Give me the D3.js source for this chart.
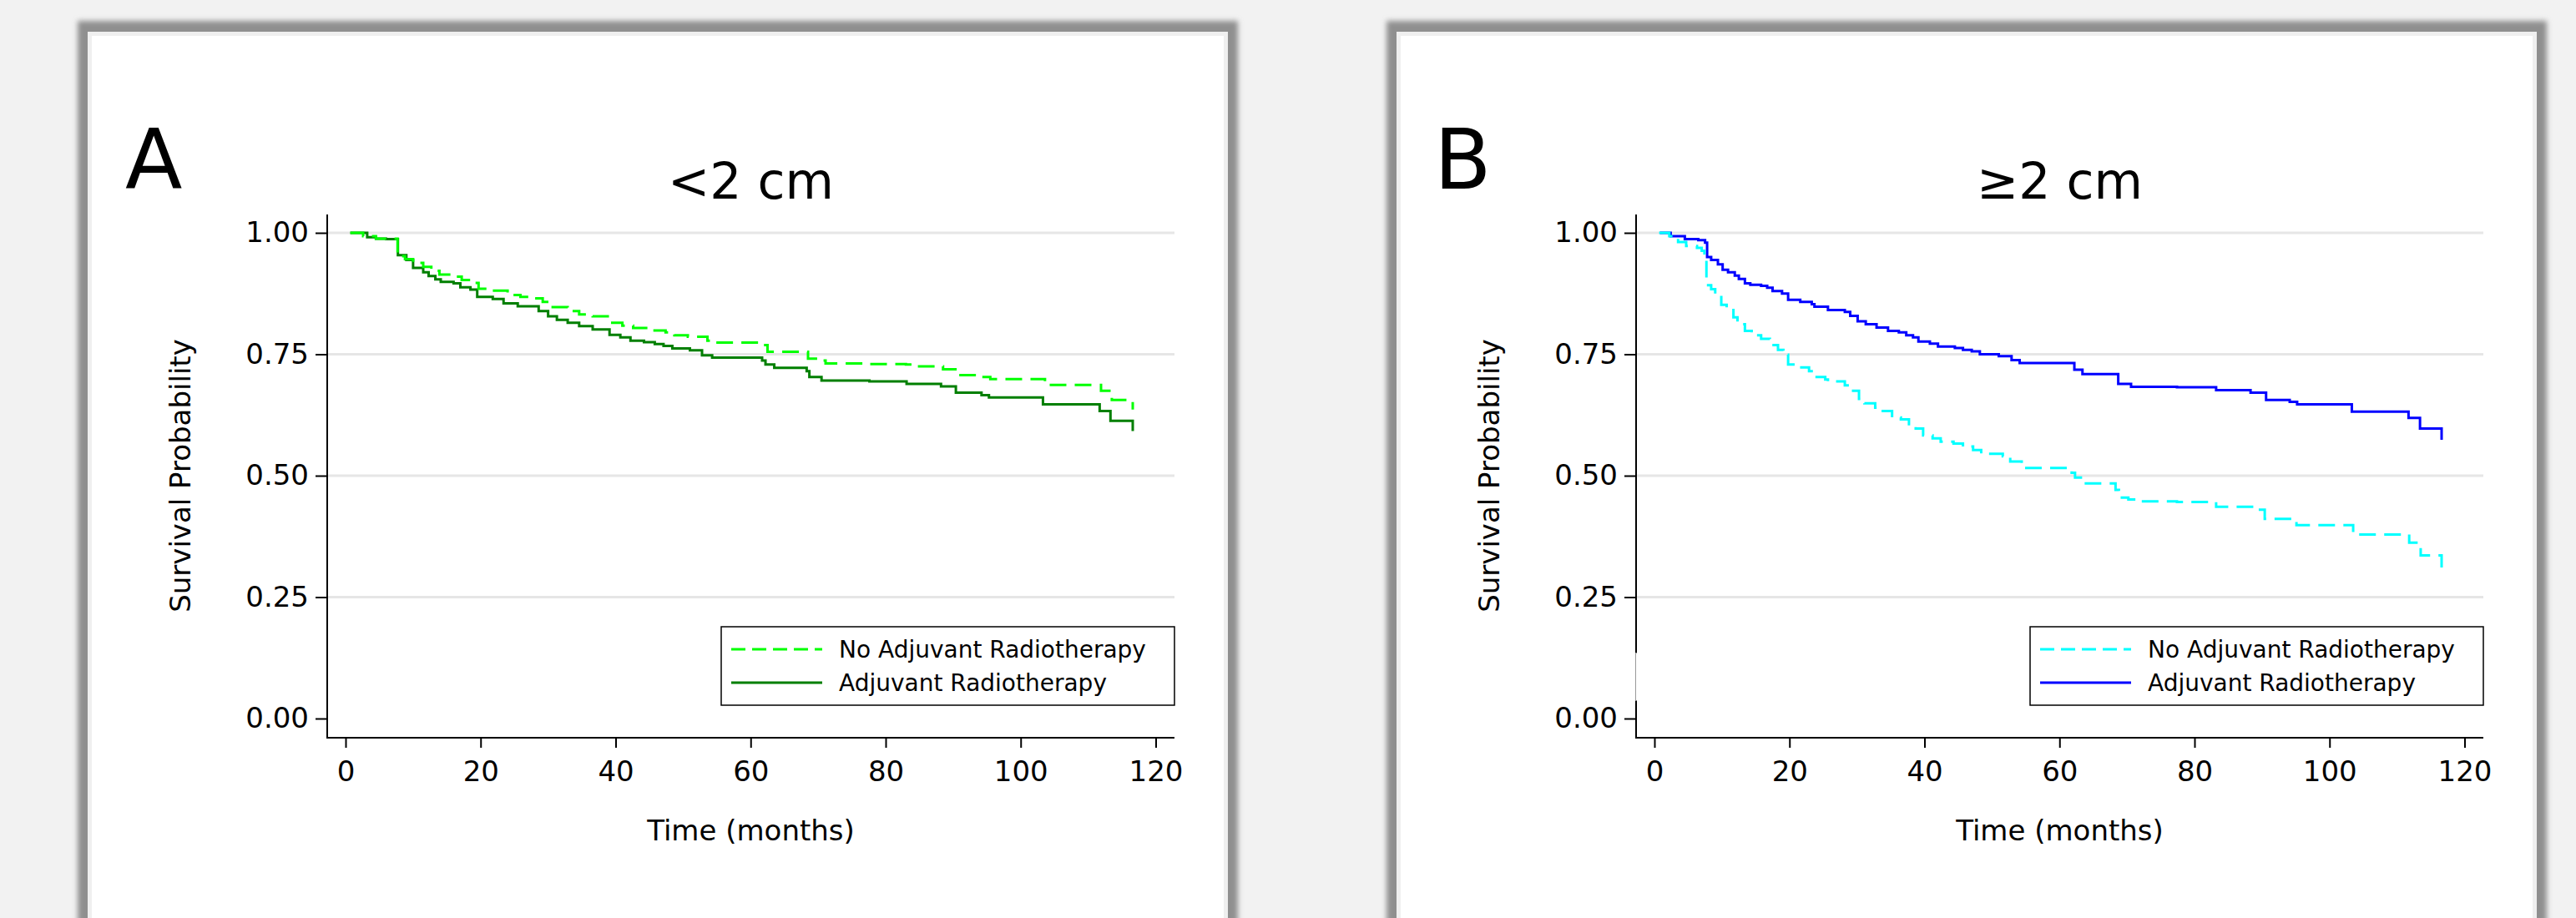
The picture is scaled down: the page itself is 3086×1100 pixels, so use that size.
<!DOCTYPE html>
<html>
<head>
<meta charset="utf-8">
<script src="https://cdn.jsdelivr.net/npm/d3@7"></script>
<style>
  body { margin: 0; background: #f2f2f2; }
  svg { display: block; }
  text { font-family: "DejaVu Sans", sans-serif; }
</style>
</head>
<body>
<svg id="main_canvas" width="3086" height="1100"></svg>
<script>
    const CANVAS_WIDTH = 3086;
    const CANVAS_HEIGHT = 1100;
    const PANEL_SHIFT = 1568;

    const timeTicks = [0, 20, 40, 60, 80, 100, 120];
    const probTicks = [0, 0.25, 0.5, 0.75, 1];
    const gridTicks = [0.25, 0.5, 0.75, 1];
    const panelLetters = ["A", "B"];
    const panelTitles = ["<2 cm", "\u22652 cm"];
    const groupNames = ["No Adjuvant Radiotherapy", "Adjuvant Radiotherapy"];

    // Kaplan-Meier steps [month, survival]
    const smallNoRT = [[0.7,1.000],[2.6,0.993],[4.5,0.988],[7.7,0.952],[8.8,0.946],[10.0,0.938],[11.5,0.930],
        [12.7,0.922],[13.9,0.914],[15.8,0.910],[17.2,0.903],[18.7,0.897],[19.7,0.885],[21.4,0.881],[24.0,0.872],
        [25.9,0.868],[27.8,0.865],[29.2,0.858],[30.2,0.847],[32.9,0.839],[34.6,0.832],[36.6,0.828],[39.1,0.815],
        [41.0,0.809],[42.6,0.804],[45.5,0.799],[47.4,0.795],[48.7,0.789],[50.7,0.786],[53.6,0.778],[54.4,0.774],
        [61.7,0.769],[62.5,0.755],[68.5,0.741],[70.0,0.737],[71.1,0.731],[77.3,0.730],[83.0,0.729],[84.3,0.725],
        [88.5,0.719],[90.6,0.707],[94.2,0.703],[95.5,0.699],[103.6,0.687],[111.9,0.675],[113.5,0.656],[116.6,0.636]];

    const smallRT = [[0.7,1.000],[3.2,0.991],[4.5,0.988],[6.0,0.987],[7.75,0.954],[9.0,0.944],[10.0,0.928],
        [11.5,0.919],[12.3,0.911],[13.3,0.904],[14.1,0.899],[16.0,0.896],[17.0,0.888],[18.5,0.883],[19.5,0.868],
        [21.8,0.864],[23.4,0.855],[25.5,0.849],[28.6,0.839],[30.0,0.828],[31.3,0.821],[32.9,0.815],[34.6,0.808],
        [36.6,0.801],[39.1,0.790],[40.7,0.785],[42.2,0.778],[44.2,0.775],[45.8,0.771],[47.1,0.767],[48.4,0.762],
        [51.0,0.758],[52.8,0.748],[54.3,0.743],[61.7,0.737],[62.2,0.729],[63.5,0.722],[68.3,0.715],[68.7,0.703],
        [70.5,0.696],[77.6,0.694],[83.1,0.689],[88.2,0.684],[90.4,0.671],[94.2,0.666],[95.3,0.661],[103.3,0.647],
        [111.7,0.633],[113.3,0.613],[116.6,0.592]];

    const largeNoRT = [[0.7,1.000],[2.2,0.993],[3.5,0.981],[4.7,0.973],[6.3,0.969],[7.0,0.963],[7.4,0.958],
        [7.7,0.892],[8.4,0.884],[9.0,0.872],[9.9,0.852],[10.7,0.844],[11.7,0.826],[12.3,0.812],[13.4,0.798],
        [14.4,0.789],[15.8,0.782],[17.1,0.769],[18.3,0.759],[19.1,0.749],[19.8,0.729],[21.4,0.723],[22.9,0.715],
        [23.7,0.703],[25.3,0.698],[25.7,0.694],[28.2,0.686],[29.0,0.675],[30.3,0.658],[31.1,0.649],[32.7,0.640],
        [33.6,0.633],[35.2,0.620],[36.5,0.616],[37.7,0.606],[38.7,0.597],[39.8,0.583],[41.2,0.577],[42.4,0.570],
        [44.3,0.566],[45.7,0.560],[47.2,0.553],[48.4,0.545],[51.6,0.540],[52.7,0.529],[54.4,0.516],[61.8,0.506],
        [62.3,0.496],[63.4,0.484],[68.3,0.471],[68.8,0.455],[70.2,0.451],[71.6,0.447],[77.4,0.446],[83.2,0.436],
        [89.5,0.430],[90.4,0.411],[95.1,0.398],[103.5,0.379],[111.8,0.362],[113.5,0.336],[116.6,0.311]];

    const largeRT = [[0.8,1.000],[2.4,0.993],[4.5,0.987],[6.5,0.985],[7.5,0.980],[7.8,0.950],[8.4,0.944],
        [9.4,0.935],[10.1,0.924],[10.9,0.919],[11.9,0.912],[12.5,0.905],[13.4,0.896],[14.2,0.893],[15.8,0.891],
        [16.7,0.887],[17.5,0.880],[18.9,0.875],[19.8,0.862],[21.6,0.858],[23.3,0.853],[23.7,0.848],[25.7,0.841],
        [28.2,0.837],[29.0,0.829],[30.1,0.818],[31.3,0.812],[32.9,0.805],[34.6,0.798],[36.2,0.795],[37.3,0.789],
        [38.3,0.785],[39.1,0.776],[40.8,0.772],[42.0,0.766],[44.5,0.763],[45.7,0.759],[47.0,0.756],[48.2,0.750],
        [51.0,0.746],[52.9,0.738],[54.1,0.732],[62.2,0.718],[63.4,0.709],[68.7,0.689],[70.6,0.683],[77.4,0.682],
        [83.2,0.676],[88.3,0.671],[90.6,0.656],[94.1,0.652],[95.2,0.647],[103.3,0.632],[111.7,0.619],
        [113.4,0.597],[116.6,0.574]];

    const panels = [
        {letter: panelLetters[0], title: panelTitles[0], series: [smallNoRT, smallRT], colors: ["#00ff00", "#007f00"]},
        {letter: panelLetters[1], title: panelTitles[1], series: [largeNoRT, largeRT], colors: ["#00ffff", "#0000ff"]}
    ];

    const plotBox = {left: 392, right: 1407, top: 257, bottom: 884};

    const x = d3.scaleLinear().domain([0, 120]).range([414, 1384.5]);
    const y = d3.scaleLinear().domain([0, 1]).range([861, 279]);

    const svg = d3.select("#main_canvas");
    svg.append("rect").attr("width", CANVAS_WIDTH).attr("height", CANVAS_HEIGHT).attr("fill", "#f2f2f2");

    svg.append("defs").append("filter")
        .attr("id", "soft")
        .attr("x", "-5%").attr("y", "-5%").attr("width", "110%").attr("height", "110%")
        .append("feGaussianBlur").attr("stdDeviation", 3);

    const km = d3.line()
        .x(d => x(d[0]))
        .y(d => y(d[1]))
        .curve(d3.curveStepAfter);

    const dashes = ["20,10", null];

    panels.forEach((p, i) => {
        const g = svg.append("g").attr("transform", `translate(${i * PANEL_SHIFT},0)`);

        // panel frame
        g.append("rect").attr("x", 93).attr("y", 25).attr("width", 1390).attr("height", 1200)
            .attr("fill", "#8f8f8f").attr("filter", "url(#soft)");
        g.append("rect").attr("x", 105).attr("y", 38).attr("width", 1366).attr("height", 1200)
            .attr("fill", "#efefef");
        g.append("rect").attr("x", 110).attr("y", 43).attr("width", 1356).attr("height", 1200)
            .attr("fill", "#ffffff");

        // gridlines
        g.append("g").selectAll("line").data(gridTicks).join("line")
            .attr("x1", plotBox.left).attr("x2", plotBox.right)
            .attr("y1", d => y(d)).attr("y2", d => y(d))
            .attr("stroke", "#e6e6e6").attr("stroke-width", 3);

        // axes
        g.append("g")
            .attr("transform", `translate(0,${plotBox.bottom})`)
            .call(d3.axisBottom(x).tickValues(timeTicks).tickSize(12).tickPadding(16).tickSizeOuter(0))
            .attr("font-size", 34).attr("font-family", "DejaVu Sans")
            .call(a => a.select(".domain").remove())
            .call(a => a.selectAll(".tick line").attr("stroke-width", 2));

        g.append("g")
            .attr("transform", `translate(${plotBox.left},0)`)
            .call(d3.axisLeft(y).tickValues(probTicks).tickFormat(d3.format(".2f")).tickSize(14).tickPadding(8).tickSizeOuter(0))
            .attr("font-size", 34).attr("font-family", "DejaVu Sans")
            .call(a => a.select(".domain").remove())
            .call(a => a.selectAll(".tick line").attr("stroke-width", 2));

        g.append("line").attr("x1", plotBox.left).attr("x2", plotBox.left)
            .attr("y1", plotBox.top).attr("y2", plotBox.bottom + 1)
            .attr("stroke", "#000").attr("stroke-width", 2);
        g.append("line").attr("x1", plotBox.left).attr("x2", plotBox.right)
            .attr("y1", plotBox.bottom).attr("y2", plotBox.bottom)
            .attr("stroke", "#000").attr("stroke-width", 2);

        if (i === 1) {
            // thin stretch of the y axis seen in the original
            g.append("line").attr("x1", plotBox.left).attr("x2", plotBox.left)
                .attr("y1", y(0.135)).attr("y2", y(0.037))
                .attr("stroke", "#fff").attr("stroke-width", 3);
            g.append("line").attr("x1", plotBox.left - 0.5).attr("x2", plotBox.left - 0.5)
                .attr("y1", y(0.135)).attr("y2", y(0.037))
                .attr("stroke", "#999").attr("stroke-width", 1);
        }

        // survival curves
        [1, 0].forEach(k => {
            g.append("path")
                .datum(p.series[k])
                .attr("d", km)
                .attr("fill", "none")
                .attr("stroke", p.colors[k])
                .attr("stroke-width", 3)
                .attr("stroke-dasharray", dashes[k]);
        });

        // texts
        g.append("text").attr("x", 150).attr("y", 226)
            .attr("font-size", 100).text(p.letter);
        g.append("text").attr("x", (plotBox.left + plotBox.right) / 2).attr("y", 238)
            .attr("text-anchor", "middle").attr("font-size", 60).text(p.title);
        g.append("text").attr("x", (plotBox.left + plotBox.right) / 2).attr("y", 1007)
            .attr("text-anchor", "middle").attr("font-size", 34).text("Time (months)");
        g.append("text")
            .attr("transform", `translate(228,${(y(0) + y(1)) / 2}) rotate(-90)`)
            .attr("text-anchor", "middle").attr("font-size", 34).text("Survival Probability");

        // legend
        const legend = g.append("g").attr("transform", "translate(864,751)");
        legend.append("rect").attr("width", 543).attr("height", 94)
            .attr("fill", "#fff").attr("stroke", "#000").attr("stroke-width", 1.5);
        legend.selectAll("g.item").data(groupNames).join("g")
            .attr("class", "item")
            .attr("transform", (d, j) => `translate(0,${27 + j * 40})`)
            .call(it => it.append("line")
                .attr("x1", 12).attr("x2", 121)
                .attr("stroke", (d, j) => p.colors[j])
                .attr("stroke-width", 3)
                .attr("stroke-dasharray", (d, j) => j === 0 ? "17,8" : null))
            .call(it => it.append("text")
                .attr("x", 141).attr("dy", "0.36em")
                .attr("font-size", 28).text(d => d));
    });
</script>
</body>
</html>
